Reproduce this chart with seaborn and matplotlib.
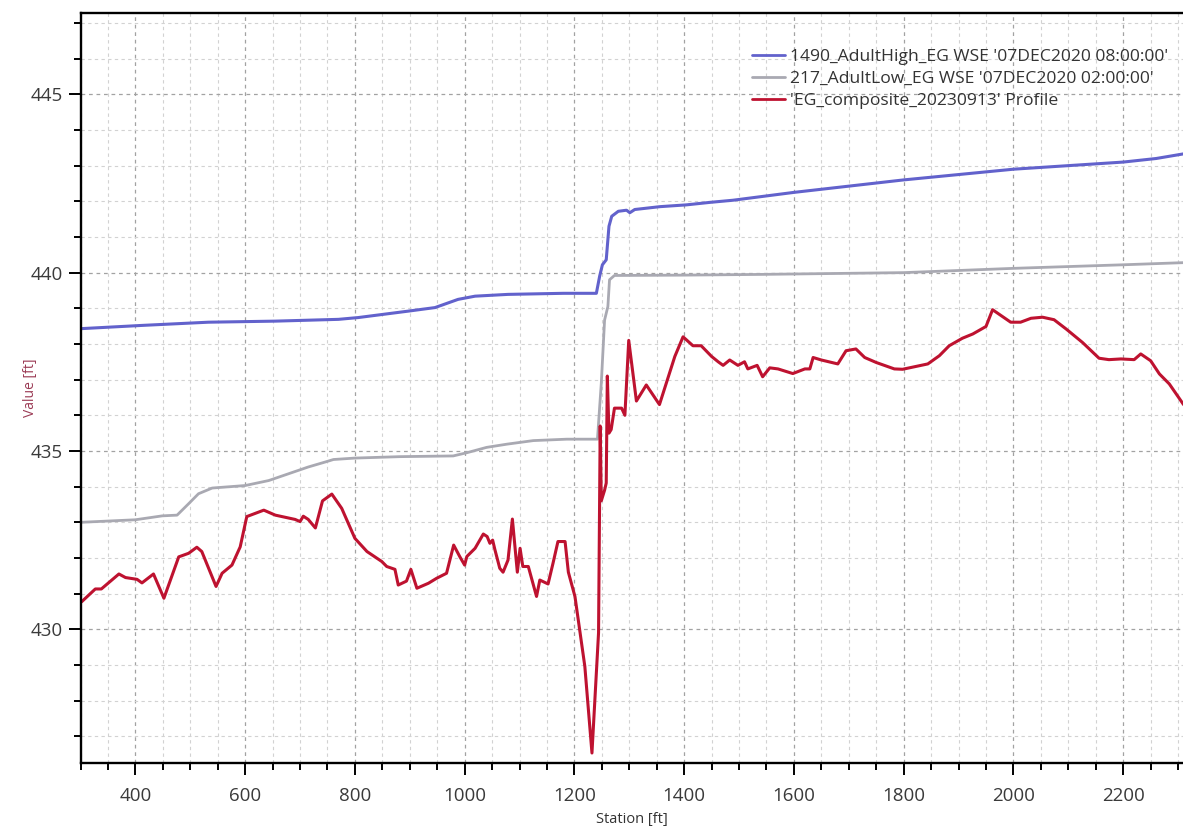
import numpy as np
import pandas as pd
import matplotlib
matplotlib.use("Agg")
import matplotlib.pyplot as plt
import seaborn as sns
from matplotlib.ticker import MultipleLocator

# ---- data -------------------------------------------------------------
high_label = "1490_AdultHigh_EG WSE '07DEC2020 08:00:00'"
low_label = "217_AdultLow_EG WSE '07DEC2020 02:00:00'"
ground_label = "'EG_composite_20230913' Profile"

high_station = [302, 412, 533, 655, 770, 806, 897, 946, 988, 1019, 1079, 1180,
                1240, 1246, 1251, 1258, 1263, 1268, 1280, 1295, 1301, 1310, 1356,
                1404, 1447, 1489, 1600, 1800, 2000, 2200, 2260, 2310]
high_wse = [438.43, 438.52, 438.61, 438.64, 438.69, 438.74, 438.92, 439.02,
            439.25, 439.34, 439.39, 439.42, 439.42, 439.90, 440.22, 440.36,
            441.30, 441.58, 441.72, 441.75, 441.68, 441.77, 441.85, 441.90,
            441.97, 442.03, 442.25, 442.60, 442.90, 443.10, 443.20, 443.33]

low_station = [302, 400, 449, 476, 497, 515, 540, 600, 643, 679, 715, 746, 761,
               800, 882, 979, 1004, 1040, 1077, 1125, 1186, 1242, 1249, 1255,
               1261, 1264, 1273, 1400, 1538, 1800, 2000, 2200, 2310]
low_wse = [433.00, 433.07, 433.18, 433.20, 433.52, 433.80, 433.96, 434.03,
           434.17, 434.36, 434.55, 434.69, 434.76, 434.80, 434.84, 434.86,
           434.95, 435.10, 435.19, 435.29, 435.33, 435.33, 436.90, 438.67,
           439.05, 439.80, 439.92, 439.93, 439.95, 440.00, 440.12, 440.22, 440.28]

ground_station = [302, 327, 338, 370, 382, 403, 412, 433, 452, 479, 497, 512,
                  521, 547, 558, 576, 591, 603, 634, 655, 691, 700, 706, 715,
                  728, 741, 758, 776, 800, 822, 849, 858, 873, 879, 894, 902,
                  913, 934, 949, 967, 980, 991, 1000, 1004, 1019, 1034, 1041,
                  1046, 1051, 1055, 1064, 1070, 1079, 1087, 1096, 1101, 1106,
                  1116, 1131, 1137, 1152, 1161, 1170, 1183, 1189, 1201, 1219,
                  1232, 1244, 1247, 1249, 1255, 1258, 1260, 1263, 1267, 1273,
                  1286, 1292, 1299, 1313, 1331, 1355, 1383, 1398, 1416, 1431,
                  1450, 1462, 1471, 1483, 1498, 1510, 1516, 1533, 1543, 1556,
                  1571, 1598, 1620, 1629, 1635, 1650, 1680, 1695, 1713, 1729,
                  1750, 1783, 1798, 1823, 1844, 1865, 1883, 1907, 1926, 1950,
                  1962, 1977, 1995, 2013, 2032, 2053, 2074, 2096, 2126, 2156,
                  2174, 2196, 2220, 2232, 2250, 2266, 2284, 2305, 2310]
ground_elev = [430.77, 431.13, 431.13, 431.55, 431.45, 431.40, 431.30, 431.55,
               430.87, 432.03, 432.13, 432.30, 432.18, 431.20, 431.57, 431.80,
               432.31, 433.16, 433.34, 433.20, 433.08, 433.02, 433.17, 433.08,
               432.84, 433.60, 433.79, 433.39, 432.55, 432.18, 431.90, 431.76,
               431.68, 431.24, 431.35, 431.68, 431.15, 431.29, 431.43, 431.57,
               432.36, 432.04, 431.80, 432.04, 432.27, 432.67, 432.60, 432.41,
               432.50, 432.24, 431.71, 431.60, 431.94, 433.09, 431.60, 432.27,
               431.76, 431.76, 430.92, 431.38, 431.27, 431.85, 432.46, 432.46,
               431.60, 430.92, 428.96, 426.53, 429.90, 435.70, 433.60, 433.90,
               434.10, 437.10, 435.50, 435.60, 436.20, 436.20, 436.00, 438.10,
               436.40, 436.85, 436.30, 437.65, 438.20, 437.95, 437.95, 437.65,
               437.50, 437.40, 437.55, 437.40, 437.50, 437.30, 437.40, 437.08,
               437.33, 437.30, 437.17, 437.30, 437.30, 437.62, 437.55, 437.44,
               437.81, 437.86, 437.62, 437.48, 437.30, 437.29, 437.37, 437.44,
               437.67, 437.95, 438.16, 438.28, 438.49, 438.96, 438.80, 438.61,
               438.61, 438.72, 438.75, 438.68, 438.42, 438.04, 437.60, 437.56,
               437.58, 437.56, 437.72, 437.53, 437.16, 436.88, 436.41, 436.30]

# ---- figure -----------------------------------------------------------
sns.set_theme(style="white")
plt.rcParams['font.family'] = ['Open Sans', 'DejaVu Sans']

W, H = 1183, 830
fig = plt.figure(figsize=(W / 100, H / 100), dpi=100)
ax = fig.add_axes([80.5 / W, 67 / H, (W - 80.5) / W, 750 / H])

series = [
    (high_label, high_station, high_wse, "#6262cc", 2.2),
    (low_label, low_station, low_wse, "#a9a9b2", 2.0),
    (ground_label, ground_station, ground_elev, "#be1230", 2.2),
]
for label, st, val, color, lw in series:
    df = pd.DataFrame({"Station": st, "Value": val})
    sns.lineplot(data=df, x="Station", y="Value", ax=ax, color=color,
                 linewidth=lw, label=label, sort=False, estimator=None)

ax.set_xlim(300, 2309)
ax.set_ylim(426.25, 447.28)

ax.xaxis.set_major_locator(MultipleLocator(200))
ax.xaxis.set_minor_locator(MultipleLocator(50))
ax.yaxis.set_major_locator(MultipleLocator(5))
ax.yaxis.set_minor_locator(MultipleLocator(1))

ax.set_axisbelow(True)
ax.grid(which="major", color="#a2a2a2", linestyle=(0, (3, 3)), linewidth=0.9)
ax.grid(which="minor", color="#d2d2d2", linestyle=(0, (3, 3)), linewidth=0.8)

for side in ("left", "bottom", "top"):
    ax.spines[side].set_color("black")
    ax.spines[side].set_linewidth(1.7)
ax.spines["right"].set_visible(False)

ax.tick_params(which="major", direction="out", length=8.6, width=1.4,
               color="black", labelcolor="#3a3a3a", labelsize=13.5)
ax.tick_params(which="minor", direction="out", length=5, width=1.4,
               color="black")
ax.tick_params(axis="x", which="major", pad=9)
ax.tick_params(axis="y", which="major", pad=4)
ax.tick_params(bottom=True, left=True, which="both")

ax.set_xlabel("Station [ft]", fontsize=10.5, color="#333333", labelpad=5)
ax.set_ylabel("Value [ft]", fontsize=10, color="#9b3b55")
ax.yaxis.set_label_coords(-0.039, 0.5)

leg = ax.legend(loc="upper left", bbox_to_anchor=(752 / W, 1 - 49 / H),
                bbox_transform=fig.transFigure, frameon=False, fontsize=12.6,
                handlelength=1.9, handletextpad=0.3, labelspacing=0.32,
                borderpad=0, borderaxespad=0)
for line in leg.get_lines():
    line.set_linewidth(2.0)
for txt in leg.get_texts():
    txt.set_color("#333333")

fig.savefig("out.png", dpi=100)
